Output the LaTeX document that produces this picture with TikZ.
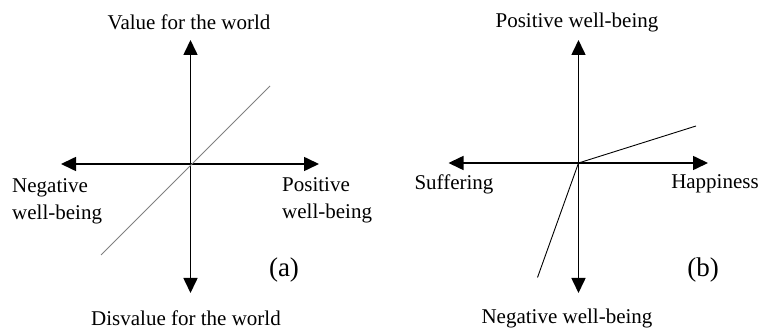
\documentclass[tikz,border=0pt]{standalone}
\usepackage{fontspec}
\setmainfont{Liberation Serif}
\usetikzlibrary{arrows.meta}
\begin{document}
\begin{tikzpicture}[x=1pt,y=-1pt,
  axis/.style={line width=1.6pt,-{Triangle[length=15pt,width=14pt]}},
  curve/.style={line width=0.9pt},
  lbl/.style={inner sep=0pt,font=\fontsize{21}{27}\selectfont},
  tag/.style={inner sep=0pt,font=\fontsize{27}{32}\selectfont}]
\useasboundingbox (0,0) rectangle (764,331);
% panel (a)
\coordinate (oa) at (190.5,164);
\coordinate (atop) at (190.5,40);
\coordinate (abot) at (190.5,293);
\coordinate (aleft) at (61,164);
\coordinate (aright) at (319,164);
\coordinate (ad1) at (101,255);
\coordinate (ad2) at (270,86);
\draw[axis] (oa) -- (atop);
\draw[axis] (oa) -- (abot);
\draw[axis] (oa) -- (aleft);
\draw[axis] (oa) -- (aright);
\draw[curve,gray] (ad1) -- (ad2);
\node[lbl] (avalue) at (189,22) {Value for the world};
\node[lbl] (adis) at (186,318) {Disvalue for the world};
\node[lbl,anchor=west,align=left] (aneg) at (12,201) {Negative\\well-being};
\node[lbl,anchor=west,align=left] (apos) at (282,200) {Positive\\well-being};
\node[tag] (alab) at (284,270) {(a)};
% panel (b)
\coordinate (ob) at (578.5,163);
\coordinate (btop) at (578.5,40);
\coordinate (bbot) at (578.5,293);
\coordinate (bleft) at (448.5,163);
\coordinate (bright) at (708,163);
\coordinate (bd1) at (696,126);
\coordinate (bd2) at (537.5,277.5);
\draw[axis] (ob) -- (btop);
\draw[axis] (ob) -- (bbot);
\draw[axis] (ob) -- (bleft);
\draw[axis] (ob) -- (bright);
\draw[curve] (ob) -- (bd1);
\draw[curve] (ob) -- (bd2);
\node[lbl] (bpos) at (577,22) {Positive well-being};
\node[lbl] (bneg) at (567,318) {Negative well-being};
\node[lbl] (bsuf) at (454,184) {Suffering};
\node[lbl] (bhap) at (715,184) {Happiness};
\node[tag] (blab) at (703,270) {(b)};
\end{tikzpicture}
\end{document}
